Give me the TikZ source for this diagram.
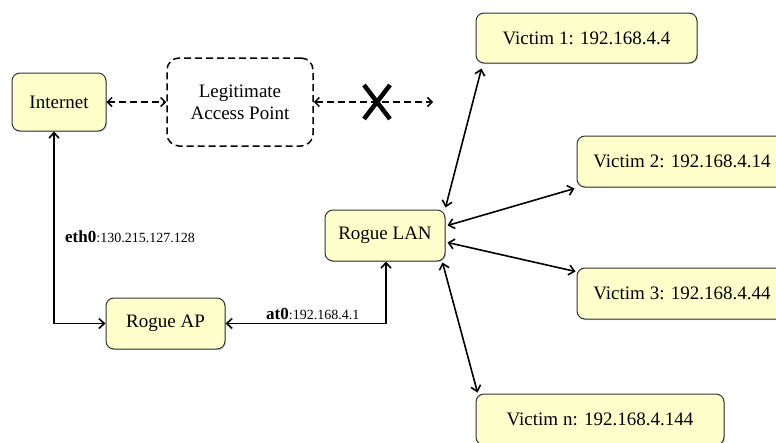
\documentclass[tikz,border=0pt]{standalone}
\usepackage{fontspec}
\setmainfont{Liberation Serif}
\usetikzlibrary{arrows.meta,shadows}
\definecolor{boxfill}{HTML}{FFFFCC}
\definecolor{boxline}{HTML}{333333}
\tikzset{
  nbox/.style={draw=boxline, line width=1pt, fill=boxfill, rounded corners=8pt,
    inner sep=0pt, align=center, font=\fontsize{19}{21}\selectfont,
    drop shadow={opacity=0.35, shadow xshift=1pt, shadow yshift=-1.2pt}},
  dbox/.style={draw=black, line width=1.5pt, dash pattern=on 7pt off 4pt, rounded corners=12pt,
    inner sep=0pt, align=center, font=\fontsize{19}{22}\selectfont},
  link/.style={line width=1.6pt, {Straight Barb[length=5.5pt,width=10pt]}-{Straight Barb[length=5.5pt,width=10pt]}},
  dlink/.style={line width=1.5pt, dash pattern=on 7pt off 4pt, {Straight Barb[length=4.5pt,width=9pt]}-{Straight Barb[length=4.5pt,width=9pt]}},
  lbl/.style={inner sep=0pt, anchor=west, font=\fontsize{14}{16}\selectfont}
}
\begin{document}
\begin{tikzpicture}[x=1pt,y=-1pt]
\useasboundingbox (0,0) rectangle (776,442);
\node[nbox, minimum width=94pt, minimum height=58pt] (inet) at (59,102) {Internet};
\node[dbox, minimum width=146pt, minimum height=88pt] (lap) at (240,102) {Legitimate\\Access Point};
\node[nbox, minimum width=119pt, minimum height=51pt] (rap) at (165.5,323.5) {Rogue AP};
\node[nbox, minimum width=120pt, minimum height=51pt] (lan) at (385,235.5) {Rogue LAN};
\node[nbox, minimum width=221pt, minimum height=50pt] (v1) at (586.5,38) {Victim 1: 192.168.4.4};
\node[nbox, minimum width=210pt, minimum height=51pt] (v2) at (682,161.5) {Victim 2: 192.168.4.14};
\node[nbox, minimum width=210pt, minimum height=51pt] (v3) at (682,293.5) {Victim 3: 192.168.4.44};
\node[nbox, minimum width=248pt, minimum height=51pt] (vn) at (600,419.5) {Victim n: 192.168.4.144};

\coordinate (lapend) at (433,102);
\draw[dlink] (inet.east) -- (lap.west);
\draw[dlink] (lap.east) -- (lapend);
\coordinate (xc) at (377,102);
\draw[line width=4.5pt] ([xshift=-13pt,yshift=17pt]xc) -- ([xshift=13pt,yshift=-17pt]xc);
\draw[line width=4.5pt] ([xshift=-13pt,yshift=-17pt]xc) -- ([xshift=13pt,yshift=17pt]xc);

\draw[link] ([xshift=-5pt]inet.south) |- (rap.west);
\draw[link] (rap.east) -| ([xshift=1pt]lan.south);

\node[lbl] (eth) at (65,237) {{\fontsize{17}{18}\selectfont\bfseries eth0}:130.215.127.128};
\node[lbl] (at0) at (266,314) {{\fontsize{17}{18}\selectfont\bfseries at0}:192.168.4.1};

\draw[link] ([yshift=2pt]lan.north east) -- ([xshift=6pt,yshift=-5pt]v1.south west);
\draw[link] ([xshift=2pt,yshift=10pt]lan.east) -- ([xshift=-2pt,yshift=-1pt]v2.south west);
\draw[link] ([xshift=2pt,yshift=-7pt]lan.east) -- ([xshift=-1pt,yshift=-4pt]v3.north west);
\draw[link] ([xshift=-3pt,yshift=-1pt]lan.south east) -- ([xshift=2pt,yshift=1pt]vn.north west);
\end{tikzpicture}
\end{document}
